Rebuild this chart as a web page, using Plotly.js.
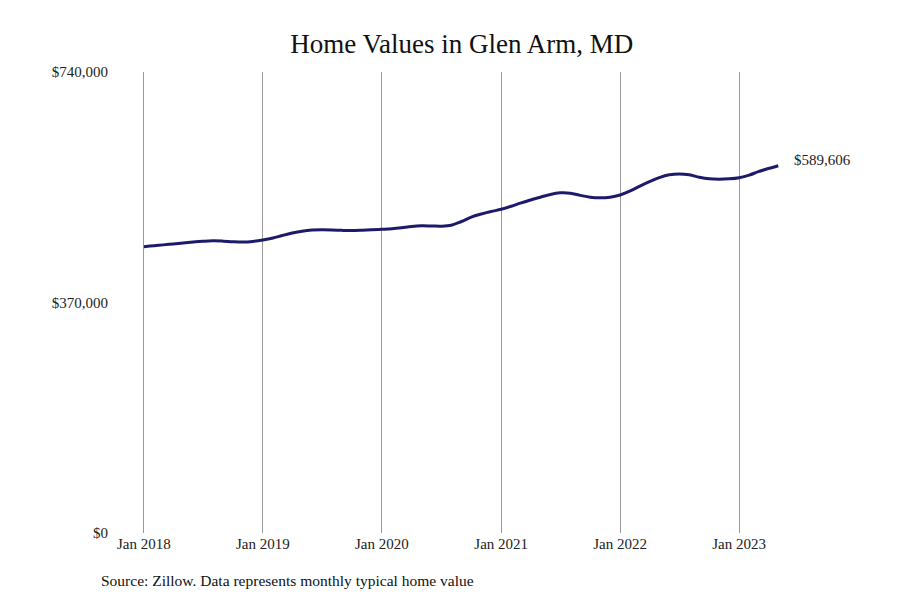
<!DOCTYPE html>
<html>
<head>
<meta charset="utf-8">
<script src="https://cdn.plot.ly/plotly-3.0.1.min.js"></script>
<style>html,body{margin:0;padding:0;background:#fff;}#chart{width:900px;height:600px;}</style>
</head>
<body>
<div id="chart"></div>
<script>
const months = [
  '2018-01-01','2018-02-01','2018-03-01','2018-04-01','2018-05-01','2018-06-01','2018-07-01','2018-08-01','2018-09-01','2018-10-01','2018-11-01','2018-12-01',
  '2019-01-01','2019-02-01','2019-03-01','2019-04-01','2019-05-01','2019-06-01','2019-07-01','2019-08-01','2019-09-01','2019-10-01','2019-11-01','2019-12-01',
  '2020-01-01','2020-02-01','2020-03-01','2020-04-01','2020-05-01','2020-06-01','2020-07-01','2020-08-01','2020-09-01','2020-10-01','2020-11-01','2020-12-01',
  '2021-01-01','2021-02-01','2021-03-01','2021-04-01','2021-05-01','2021-06-01','2021-07-01','2021-08-01','2021-09-01','2021-10-01','2021-11-01','2021-12-01',
  '2022-01-01','2022-02-01','2022-03-01','2022-04-01','2022-05-01','2022-06-01','2022-07-01','2022-08-01','2022-09-01','2022-10-01','2022-11-01','2022-12-01',
  '2023-01-01','2023-02-01','2023-03-01','2023-04-01','2023-05-01'
];
const homeValues = [
  459600,461000,462500,464000,465500,467000,468200,469000,468500,467500,467000,468000,
  470300,473500,477500,481500,484500,486300,486800,486500,485800,485500,486000,486700,
  487500,488500,490000,492000,493000,492800,492500,494000,500000,507000,512000,516000,
  519600,524500,529500,534500,539000,543500,546000,545500,542000,539000,538000,539000,
  542600,549000,556500,564000,570500,575000,576300,575000,571000,568500,567800,568500,
  570400,574500,580000,585000,589606
];
const yTickVals = [0, 370000, 740000];
const yTickText = ['$0', '$370,000', '$740,000'];
const titleText = 'Home Values in Glen Arm, MD';
const sourceText = 'Source: Zillow. Data represents monthly typical home value';
const endLabel = '$589,606';

const serif = 'Liberation Serif, Times New Roman, serif';

const trace = {
  x: months,
  y: homeValues,
  type: 'scatter',
  mode: 'lines',
  line: {color: '#1c1a6b', width: 3, shape: 'spline', smoothing: 1},
  hoverinfo: 'skip'
};

const layout = {
  width: 900,
  height: 600,
  paper_bgcolor: '#ffffff',
  plot_bgcolor: '#ffffff',
  margin: {l: 140, r: 52, t: 72, b: 67},
  showlegend: false,
  font: {family: serif, color: '#222222', size: 15},
  title: {
    text: titleText,
    font: {family: serif, size: 27, color: '#111111'},
    x: 0.513, xanchor: 'center', xref: 'container',
    y: 0.928, yanchor: 'middle', yref: 'container'
  },
  xaxis: {
    type: 'date',
    range: ['2017-12-20', '2023-12-01'],
    tick0: '2018-01-01',
    dtick: 'M12',
    tickformat: '%b %Y',
    showgrid: true,
    gridcolor: '#9a9a9a',
    gridwidth: 1,
    zeroline: false,
    showline: false,
    ticks: '',
    tickfont: {family: serif, size: 15, color: '#222222'},
    fixedrange: true
  },
  yaxis: {
    range: [0, 740000],
    tickvals: yTickVals,
    ticktext: yTickText,
    showgrid: false,
    zeroline: false,
    showline: false,
    ticks: 'outside',
    ticklen: 28,
    tickcolor: 'rgba(0,0,0,0)',
    tickfont: {family: serif, size: 15, color: '#222222'},
    fixedrange: true
  },
  annotations: [
    {
      x: months[months.length - 1],
      y: homeValues[homeValues.length - 1],
      xref: 'x', yref: 'y',
      text: endLabel,
      showarrow: false,
      xanchor: 'left',
      yanchor: 'middle',
      xshift: 14,
      yshift: 6,
      font: {family: serif, size: 15, color: '#222222'}
    },
    {
      x: -0.058,
      y: -0.102,
      xref: 'paper', yref: 'paper',
      xanchor: 'left', yanchor: 'middle',
      text: sourceText,
      showarrow: false,
      font: {family: serif, size: 15.5, color: '#111111'}
    }
  ]
};

Plotly.newPlot('chart', [trace], layout, {displayModeBar: false, staticPlot: true});
</script>
</body>
</html>
